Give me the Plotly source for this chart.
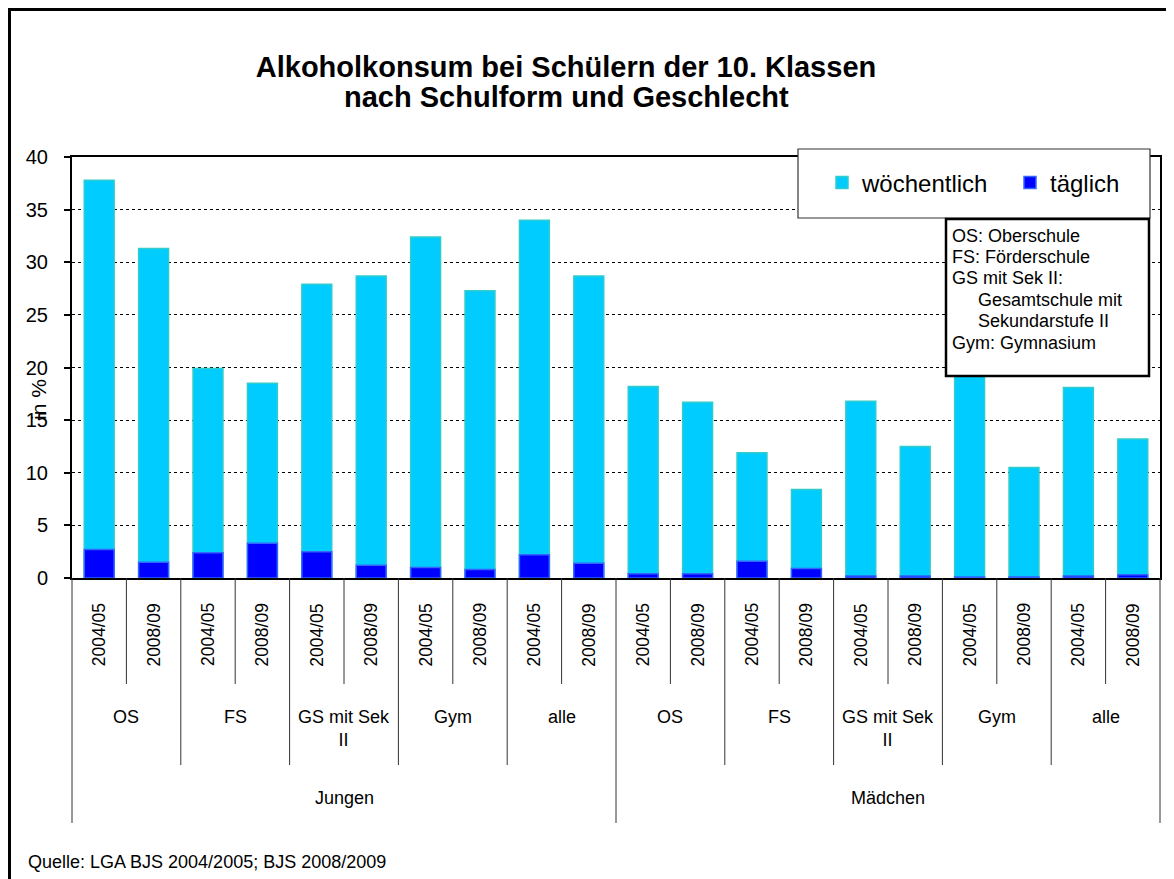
import plotly.graph_objects as go

# ---- data ----
genders = ["Jungen", "Mädchen"]
schools = ["OS", "FS", "GS mit Sek II", "Gym", "alle"]
school_labels = ["OS", "FS", "GS mit Sek<br>II", "Gym", "alle"]
years = ["2004/05", "2008/09"]

woechentlich = [37.8, 31.3, 19.9, 18.5, 27.9, 28.7, 32.4, 27.3, 34.0, 28.7,
                18.2, 16.7, 11.9, 8.4, 16.8, 12.5, 21.0, 10.5, 18.1, 13.2]
taeglich = [2.7, 1.5, 2.4, 3.3, 2.5, 1.2, 1.0, 0.8, 2.2, 1.4,
            0.4, 0.4, 1.6, 0.9, 0.2, 0.2, 0.1, 0.1, 0.2, 0.3]

title_lines = ["Alkoholkonsum bei Schülern der 10. Klassen",
               "nach Schulform und Geschlecht"]
source = "Quelle: LGA BJS 2004/2005; BJS 2008/2009"
info_lines = [("OS: Oberschule", 0), ("FS: Förderschule", 0), ("GS mit Sek II:", 0),
              ("Gesamtschule mit", 1), ("Sekundarstufe II", 1), ("Gym: Gymnasium", 0)]

FONT = "Liberation Sans, Arial, sans-serif"

# category index positions
n = len(genders) * len(schools) * len(years)
xs = list(range(n))
year_of = [years[i % 2] for i in xs]

fig = go.Figure()
fig.add_trace(go.Bar(
    x=xs, y=woechentlich, name="wöchentlich", width=0.55,
    marker=dict(color="#00CCFF", line=dict(color="#33CCCC", width=1.5)),
))
fig.add_trace(go.Bar(
    x=xs, y=taeglich, name="täglich", width=0.55,
    marker=dict(color="#0000FF", line=dict(color="#3366FF", width=1.5)),
))

# geometry (screen coords have an 8px page offset)
OFF = 8
W, H = 1174, 879
L, T = 72 - OFF, 157 - OFF
R, B = W - (1160 - OFF), H - (578 - OFF)
PW, PH = W - L - R, H - T - B


def px(xs_):  # screen x -> paper
    return (xs_ - OFF - L) / PW


def py(ys_):  # screen y -> paper
    return (H - B - (ys_ - OFF)) / PH


def bx(b):  # data boundary -> paper x
    return (b + 0.5) / n


shapes = []
annotations = []

# separators below axis
for i in range(n + 1):
    b = i - 0.5
    if i % 10 == 0:
        y1 = py(823)
    elif i % 2 == 0:
        y1 = py(765)
    else:
        y1 = py(684)
    shapes.append(dict(type="line", xref="paper", yref="paper",
                       x0=bx(b), x1=bx(b), y0=0, y1=y1,
                       line=dict(color="#333333", width=1)))

# year labels
for i in xs:
    annotations.append(dict(x=i, xref="x", y=py(635), yref="paper",
                            text=year_of[i], showarrow=False, textangle=-90,
                            font=dict(size=17.5, color="black", family=FONT),
                            xanchor="center", yanchor="middle"))
# school labels
for g in range(len(genders)):
    for s in range(len(schools)):
        c = g * 10 + s * 2 + 0.5
        annotations.append(dict(x=c, xref="x", y=py(705), yref="paper",
                                text=school_labels[s], showarrow=False,
                                font=dict(size=18, color="black", family=FONT),
                                xanchor="center", yanchor="top"))
    annotations.append(dict(x=g * 10 + 4.5, xref="x", y=py(798), yref="paper",
                            text=genders[g], showarrow=False,
                            font=dict(size=18, color="black", family=FONT),
                            xanchor="center", yanchor="middle"))

# second title line (tight line spacing like the original)
annotations.append(dict(x=px(566), y=py(97), xref="paper", yref="paper",
                        showarrow=False, text="<b>" + title_lines[1] + "</b>",
                        font=dict(size=29, color="black", family=FONT),
                        xanchor="center", yanchor="middle"))

# y axis title
annotations.append(dict(x=px(38), y=py(400), xref="paper", yref="paper",
                        text="in %", textangle=-90, showarrow=False,
                        font=dict(size=21, color="black", family=FONT),
                        xanchor="center", yanchor="middle"))

# source
annotations.append(dict(x=px(26), y=py(862), xref="paper", yref="paper",
                        text=source, showarrow=False,
                        font=dict(size=18, color="black", family=FONT),
                        xanchor="left", yanchor="middle"))

# legend box
shapes.append(dict(type="rect", xref="paper", yref="paper", layer="above",
                   x0=px(798), x1=px(1150), y0=py(149), y1=py(218),
                   fillcolor="white", line=dict(color="#333333", width=1.2)))
# info box
shapes.append(dict(type="rect", xref="paper", yref="paper", layer="above",
                   x0=px(946), x1=px(1149), y0=py(219), y1=py(376),
                   fillcolor="white", line=dict(color="black", width=2.5)))
info_y = [236, 257, 278, 300, 321, 343]
for (txt, ind), yy in zip(info_lines, info_y):
    annotations.append(dict(x=px(950 + 26 * ind), y=py(yy), xref="paper", yref="paper",
                            text=txt, showarrow=False,
                            font=dict(size=18, color="black", family=FONT),
                            xanchor="left", yanchor="middle"))

# outer frame
shapes.append(dict(type="rect", xref="paper", yref="paper", layer="above",
                   x0=px(9.5), x1=px(1250), y0=py(9.5), y1=py(950),
                   fillcolor="rgba(0,0,0,0)", line=dict(color="black", width=3)))

fig.update_layout(
    width=W, height=H,
    margin=dict(l=L, r=R, t=T, b=B, autoexpand=False),
    paper_bgcolor="white", plot_bgcolor="white",
    barmode="overlay",
    title=dict(text="<b>" + title_lines[0] + "</b>",
               x=(566 - OFF) / W, xref="container", xanchor="center",
               y=1 - (67 - OFF) / H, yref="container", yanchor="middle",
               font=dict(size=29, color="black", family=FONT)),
    font=dict(family=FONT, color="black"),
    legend=dict(orientation="h", x=px(822), y=py(183), xanchor="left", yanchor="middle",
                xref="paper", yref="paper",
                font=dict(size=24, color="black", family=FONT),
                bgcolor="rgba(0,0,0,0)", borderwidth=0, entrywidth=143),
    shapes=shapes,
    annotations=annotations,
    showlegend=True,
)

fig.update_xaxes(range=[-0.5, n - 0.5], showticklabels=False, ticks="",
                 showgrid=False, zeroline=False, showline=True,
                 linecolor="black", linewidth=2, mirror=True)
fig.update_yaxes(range=[0, 40], dtick=5, showgrid=True, gridcolor="black",
                 griddash="dot", gridwidth=1, zeroline=False, showline=True,
                 linecolor="black", linewidth=2, mirror=True, ticks="outside",
                 ticklen=6, tickwidth=1.5, tickcolor="black", ticklabelstandoff=12,
                 tickfont=dict(size=20, color="black", family=FONT))

fig.write_html("out.html")
